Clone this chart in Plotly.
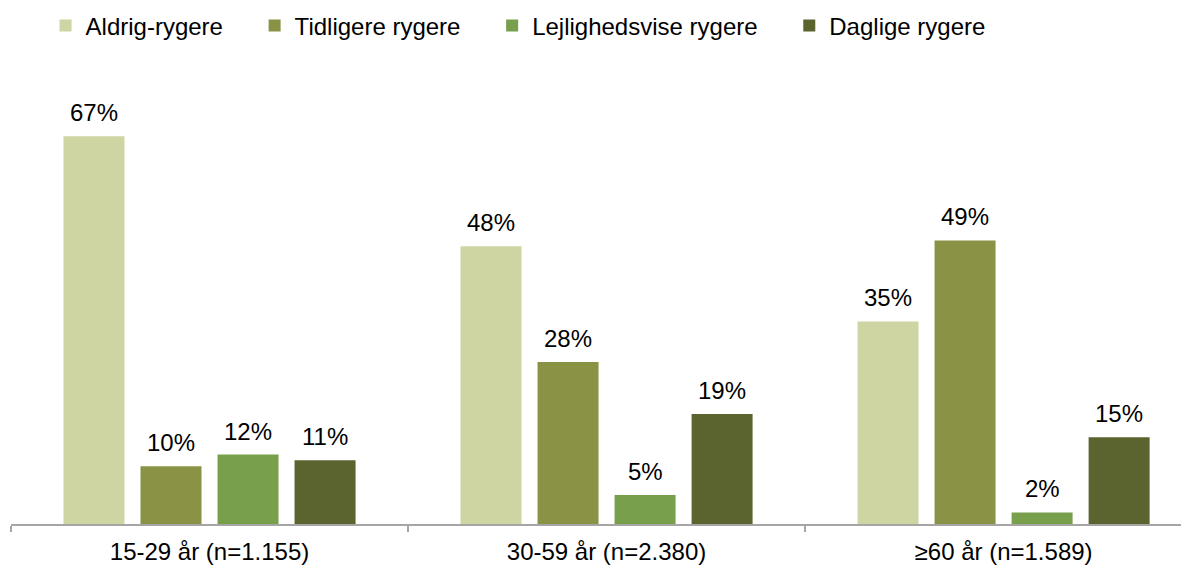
import plotly.graph_objects as go

# age groups on the x axis
categories = ["15-29 år (n=1.155)", "30-59 år (n=2.380)", "≥60 år (n=1.589)"]

series_names = ["Aldrig-rygere", "Tidligere rygere", "Lejlighedsvise rygere", "Daglige rygere"]
aldrig = [67, 48, 35]
tidligere = [10, 28, 49]
lejlighedsvise = [12, 5, 2]
daglige = [11, 19, 15]

colors = ["#CFD5A2", "#8A9245", "#789F4B", "#5B632F"]

FONT = "Liberation Sans, Arial"
FS = 24
BAR_STEP = 77  # px between neighbouring bars in a group
PAD = "\u00a0" * 4  # a bit more room between legend entries

fig = go.Figure()

all_series = [aldrig, tidligere, lejlighedsvise, daglige]
for i, (name, vals, col) in enumerate(zip(series_names, all_series, colors)):
    fig.add_trace(go.Bar(
        x=categories,
        y=vals,
        name=name + PAD,
        marker=dict(color=col, line=dict(width=0)),
        hovertemplate=name + ": %{y}%<extra></extra>",
    ))
    # value labels above bars
    for cat, v in zip(categories, vals):
        fig.add_annotation(
            x=cat, y=v, text=f"{v}%",
            showarrow=False, yanchor="bottom",
            xshift=(i - 1.5) * BAR_STEP, yshift=8,
            font=dict(size=FS, color="black", family=FONT),
        )

fig.update_layout(
    width=1181,
    height=557,
    margin=dict(l=3, r=0, t=53, b=41),
    paper_bgcolor="white",
    plot_bgcolor="white",
    barmode="group",
    bargap=0.224,
    bargroupgap=0.208,
    font=dict(family=FONT, color="black"),
    showlegend=True,
    legend=dict(
        orientation="h",
        x=0.0318, xanchor="left", xref="container",
        y=0.968, yanchor="middle", yref="container",
        font=dict(size=FS, color="black"),
        itemwidth=30,
        traceorder="normal",
    ),
    xaxis=dict(
        range=[-0.5, 2.467],
        showline=True, linecolor="#A6A6A6", linewidth=2,
        ticks="outside", tickson="boundaries", ticklen=6, tickcolor="#A6A6A6", tickwidth=2,
        ticklabelstandoff=5,
        tickfont=dict(size=FS, color="black"),
        showgrid=False, zeroline=False,
    ),
    yaxis=dict(
        range=[0, 80],
        visible=False,
        showgrid=False, zeroline=False,
    ),
)

fig.write_html("out.html")
